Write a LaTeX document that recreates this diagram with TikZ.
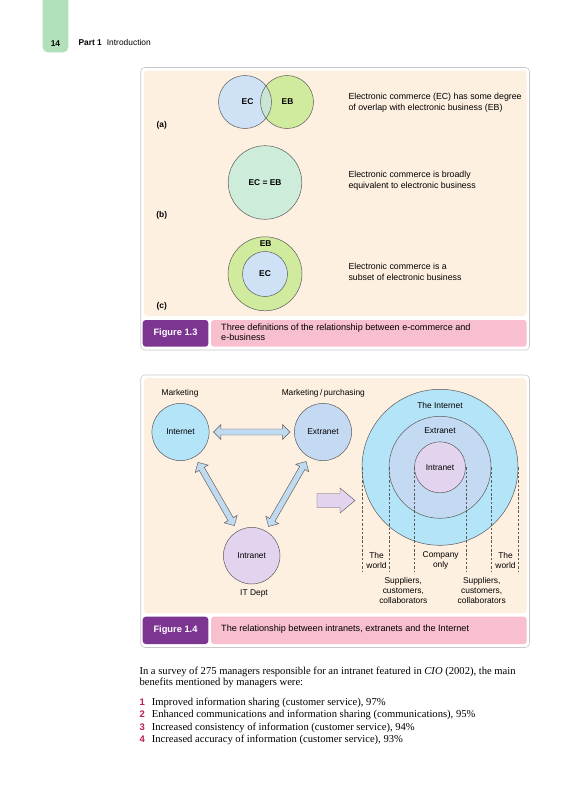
\documentclass[tikz,border=0pt]{standalone}
\usepackage{fontspec}
\setmainfont{Liberation Sans}
\newfontfamily\bodyserif{Liberation Serif}
\definecolor{peach}{RGB}{254,240,225}
\definecolor{tabgreen}{RGB}{178,224,186}
\definecolor{ecblue}{RGB}{207,226,245}
\definecolor{ebgreen}{RGB}{208,234,158}
\definecolor{overlapc}{RGB}{201,229,211}
\definecolor{mint}{RGB}{205,236,218}
\definecolor{netcyan}{RGB}{180,228,248}
\definecolor{extblue}{RGB}{196,218,242}
\definecolor{intlav}{RGB}{226,212,238}
\definecolor{arrblue}{RGB}{192,218,240}
\definecolor{purp}{RGB}{124,54,146}
\definecolor{pinkc}{RGB}{248,192,206}
\definecolor{framegray}{RGB}{200,200,200}
\definecolor{circline}{RGB}{90,90,90}
\definecolor{numred}{RGB}{190,30,90}
\begin{document}
\begin{tikzpicture}[x=1pt,y=-1pt,
  circ/.style={circle, draw=circline, line width=0.5pt, inner sep=0pt, minimum size=#1},
  lbl/.style={inner sep=0pt, font=\fontsize{8.4}{10}\selectfont},
  blbl/.style={inner sep=0pt, font=\fontsize{8.4}{10}\selectfont\bfseries},
  desc/.style={inner sep=0pt, anchor=west, align=left, font=\fontsize{8.8}{11}\selectfont},
  capt/.style={inner sep=0pt, anchor=west, align=left, font=\fontsize{9.1}{9.3}\selectfont},
  fig/.style={inner sep=0pt, text=white, font=\fontsize{9.3}{10}\selectfont\bfseries},
  arrowst/.style={fill=arrblue, draw=circline, line width=0.45pt, line join=miter},
  dsh/.style={draw=circline, line width=0.45pt, dash pattern=on 2.5pt off 1.8pt},
  body/.style={inner sep=0pt, anchor=mid west, font=\bodyserif\fontsize{10.6}{12}\selectfont},
  num/.style={inner sep=0pt, anchor=mid west, text=numred, font=\fontsize{9.5}{12}\selectfont\bfseries},
  pics/dblarr/.style={code={
    \pgfmathsetmacro\hl{#1/2}
    \draw[arrowst] (-\hl,0) -- (-\hl+7.5,7.5) -- (-\hl+7.5,3) -- (\hl-7.5,3) -- (\hl-7.5,7.5)
      -- (\hl,0) -- (\hl-7.5,-7.5) -- (\hl-7.5,-3) -- (-\hl+7.5,-3) -- (-\hl+7.5,-7.5) -- cycle;
  }}
]
\useasboundingbox[fill=white] (0,0) rectangle (588,800);

% header
\fill[tabgreen, rounded corners=5pt] (42.7,-10) rectangle (68.3,52.3);
\node[blbl] (pg) at (55.5,43.3) {14};
\node[blbl, anchor=mid west] (part) at (78.3,43.3) {Part 1};
\node[lbl, anchor=mid west] (intro) at (106.7,43.3) {Introduction};

% ---------------- Figure 1.3 ----------------
\draw[framegray, line width=0.6pt, rounded corners=4pt] (140.7,67.5) rectangle (529.5,350);
\fill[peach, rounded corners=4pt] (143.8,70.5) rectangle (526.7,316);
\fill[purp, rounded corners=3pt] (142.7,320) rectangle (208.3,346.7);
\fill[pinkc, rounded corners=3pt] (211,320) rectangle (526.7,346.7);
\node[fig] (f13) at (175.5,333.4) {Figure 1.3};
\node[capt] (c13) at (221,332.2) {Three definitions of the relationship between e-commerce and\\e-business};

% (a)
\fill[ecblue] (245,102) circle (26.5pt);
\fill[ebgreen] (287,102) circle (26.5pt);
\begin{scope}
  \clip (245,102) circle (26.5pt);
  \fill[overlapc] (287,102) circle (26.5pt);
\end{scope}
\node[circ=53pt] (ec) at (245,102) {};
\node[circ=53pt] (eb) at (287,102) {};
\node[blbl] (ect) at (247.5,102) {EC};
\node[blbl] (ebt) at (287.5,102) {EB};
\node[blbl] (la) at (161.7,125) {(a)};
\node[desc] (da) at (348.3,102.8) {Electronic commerce (EC) has some degree\\of overlap with electronic business (EB)};

% (b)
\node[circ=73.6pt, fill=mint, font=\fontsize{8.4}{10}\selectfont\bfseries] (eceb) at (265,182.5) {EC = EB};
\node[blbl] (lb) at (161.7,215) {(b)};
\node[desc] (db) at (348.3,180.5) {Electronic commerce is broadly\\equivalent to electronic business};

% (c)
\node[circ=74pt, fill=ebgreen] (ebo) at (265,273.8) {};
\node[circ=45pt, fill=ecblue, font=\fontsize{8.4}{10}\selectfont\bfseries] (eci) at (265,274) {EC};
\node[blbl] (ebl) at (265.7,243.3) {EB};
\node[blbl] (lc) at (161.7,306.7) {(c)};
\node[desc] (dc) at (348.3,272) {Electronic commerce is a\\subset of electronic business};

% ---------------- Figure 1.4 ----------------
\draw[framegray, line width=0.6pt, rounded corners=4pt] (140.7,375) rectangle (529.5,647.5);
\fill[peach, rounded corners=4pt] (143.8,378) rectangle (526.7,613.3);
\fill[purp, rounded corners=3pt] (142.7,616.7) rectangle (208.3,644);
\fill[pinkc, rounded corners=3pt] (211,616.7) rectangle (526.7,644);
\node[fig] (f14) at (175.5,630.3) {Figure 1.4};
\node[capt] (c14) at (221,629.5) {The relationship between intranets, extranets and the Internet};

\node[circ=57.2pt, fill=netcyan, lbl] (internet) at (180.5,432) {Internet};
\node[circ=57.2pt, fill=extblue, lbl] (extranet) at (323,432) {Extranet};
\node[circ=56.6pt, fill=intlav, lbl] (intranet) at (251.7,555.7) {Intranet};
\node[lbl, anchor=mid] (mkt) at (180,392.7) {Marketing};
\node[lbl, anchor=mid] (mkp) at (323.3,392.7) {Marketing\,/\,purchasing};
\node[lbl, anchor=mid] (itd) at (254,592.7) {IT Dept};

\path (internet) -- (extranet) pic[midway, sloped] {dblarr=76.6};
\path (internet) -- (intranet) pic[midway, sloped] {dblarr=73};
\path (extranet) -- (intranet) pic[midway, sloped] {dblarr=75};

% purple block arrow
\draw[fill=intlav, draw=circline, line width=0.45pt]
  (317,493.5) -- (340,493.5) -- (340,488) -- (355,500.5) -- (340,513) -- (340,507.5) -- (317,507.5) -- cycle;

% concentric circles
\node[circ=156pt, fill=netcyan] (theint) at (440,467.3) {};
\node[circ=102pt, fill=extblue] (ext2) at (440,467.3) {};
\node[circ=51pt, fill=intlav] (int2) at (440,467.3) {};
\node[lbl] (tint) at (440,405) {The Internet};
\node[lbl] (text) at (440,430.7) {Extranet};
\node[lbl] (tintr) at (440,467.3) {Intranet};

\draw[dsh] (theint.west) -- ++(0,104);
\draw[dsh] (ext2.west) -- ++(0,104);
\draw[dsh] (int2.west) -- ++(0,104);
\draw[dsh] (int2.east) -- ++(0,104);
\draw[dsh] (ext2.east) -- ++(0,104);
\draw[dsh] (theint.east) -- ++(0,104);

\node[lbl, align=center] (w1) at (376.5,560) {The\\world};
\node[lbl, align=center] (co) at (440.7,560) {Company\\only};
\node[lbl, align=center] (w2) at (505.5,560) {The\\world};
\node[lbl, align=center, font=\fontsize{8.4}{10.3}\selectfont] (s1) at (403.3,590.3) {Suppliers,\\customers,\\collaborators};
\node[lbl, align=center, font=\fontsize{8.4}{10.3}\selectfont] (s2) at (481.7,590.3) {Suppliers,\\customers,\\collaborators};

% ---------------- body text ----------------
\node[body] (t1) at (139.3,671.7) {In a survey of 275 managers responsible for an intranet featured in \textit{CIO} (2002), the main};
\node[body] (t2) at (139.3,683.3) {benefits mentioned by managers were:};
\node[num] (n1) at (139.5,702.7) {1};
\node[body] (l1) at (151.7,702.7) {Improved information sharing (customer service), 97\%};
\node[num] (n2) at (139.5,715) {2};
\node[body] (l2) at (151.7,715) {Enhanced communications and information sharing (communications), 95\%};
\node[num] (n3) at (139.5,727.7) {3};
\node[body] (l3) at (151.7,727.7) {Increased consistency of information (customer service), 94\%};
\node[num] (n4) at (139.5,740) {4};
\node[body] (l4) at (151.7,740) {Increased accuracy of information (customer service), 93\%};
\end{tikzpicture}
\end{document}
